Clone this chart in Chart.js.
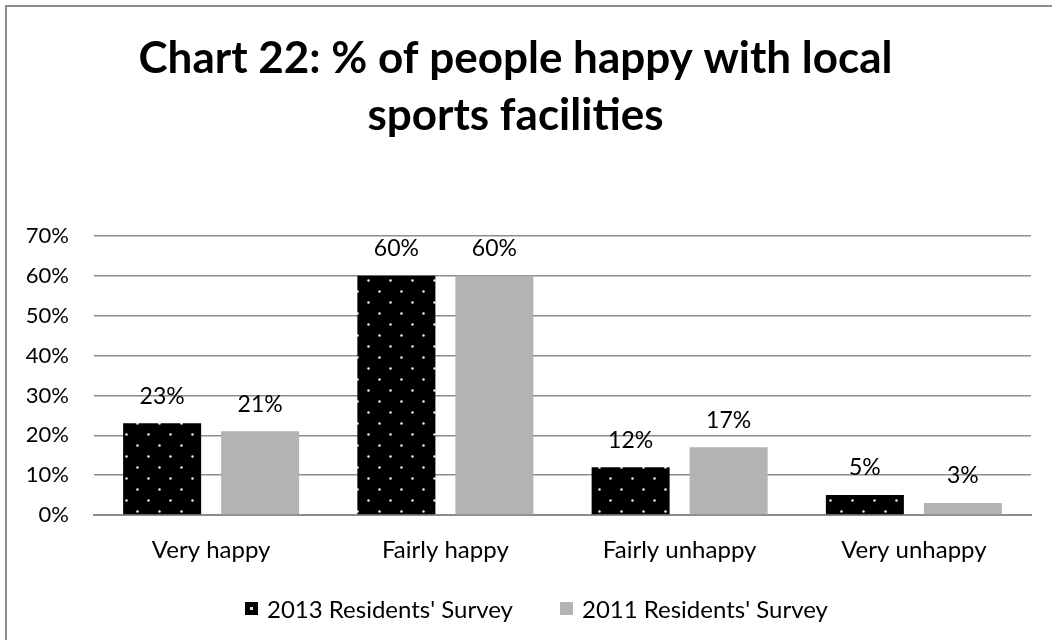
<!DOCTYPE html>
<html>
<head>
<meta charset="utf-8">
<script src="https://cdn.jsdelivr.net/npm/chart.js@4.4.1/dist/chart.umd.min.js"></script>
<style>
    body { margin: 0; background: #fff; overflow: hidden; }
    #wrap { position: relative; width: 1052px; height: 640px; overflow: hidden; }
    #frame {
        position: absolute; left: 5px; top: 5px; width: 1100px; height: 700px;
        border-left: 2px solid #8c8c8c; border-top: 2px solid #8c8c8c;
    }
    #legend {
        position: absolute; left: 245px; top: 594px; line-height: 29px;
        font-family: Lato, 'Open Sans', sans-serif; font-size: 24px; color: #000;
        display: flex; align-items: center; white-space: nowrap;
    }
    .item { display: flex; align-items: center; margin-right: 47px; }
    .box { width: 13px; height: 13px; margin-right: 9px; position: relative; }
    .box.dots { background: #000; }
    .box.dots::after {
        content: ''; position: absolute; left: 5px; top: 5px; width: 3px; height: 3px; background: #e0e0e0;
    }
    .box.grey { background: #b3b3b3; }
</style>
</head>
<body>
<div id="wrap">
    <canvas id="chart" width="1052" height="640"></canvas>
    <div id="frame"></div>
    <div id="legend"></div>
</div>
<script>
    // Chart data
    const titleLines = ['Chart 22: % of people happy with local', 'sports facilities'];
    const categories = ['Very happy', 'Fairly happy', 'Fairly unhappy', 'Very unhappy'];
    const seriesNames = ["2013 Residents' Survey", "2011 Residents' Survey"];
    const survey2013 = [23, 60, 12, 5];
    const survey2011 = [21, 60, 17, 3];
    const yMax = 70;
    const yStep = 10;

    const fontFamily = "Lato, 'Open Sans', sans-serif";

    // Black fill with small light dots
    function dotPattern() {
        const c = document.createElement('canvas');
        c.width = 22;
        c.height = 22;
        const g = c.getContext('2d');
        g.fillStyle = '#000';
        g.fillRect(0, 0, 22, 22);
        g.fillStyle = '#e6e6e6';
        [[5.5, 5.5], [16.5, 16.5]].forEach(p => {
            g.beginPath();
            g.arc(p[0], p[1], 1.3, 0, Math.PI * 2);
            g.fill();
        });
        return g.createPattern(c, 'repeat');
    }

    // Value labels above each bar
    const barLabels = {
        id: 'barLabels',
        afterDatasetsDraw(chart) {
            const ctx = chart.ctx;
            ctx.save();
            ctx.font = '23px ' + fontFamily;
            ctx.fillStyle = '#000';
            ctx.textAlign = 'center';
            ctx.textBaseline = 'middle';
            chart.data.datasets.forEach((ds, i) => {
                chart.getDatasetMeta(i).data.forEach((bar, j) => {
                    ctx.fillText(ds.data[j] + '%', bar.x, bar.y - 27);
                });
            });
            ctx.restore();
        }
    };

    new Chart(document.getElementById('chart'), {
        type: 'bar',
        data: {
            labels: categories,
            datasets: [{
                label: seriesNames[0],
                data: survey2013,
                backgroundColor: dotPattern(),
                categoryPercentage: 0.8367,
                barPercentage: 0.796
            }, {
                label: seriesNames[1],
                data: survey2011,
                backgroundColor: '#b3b3b3',
                categoryPercentage: 0.8367,
                barPercentage: 0.796
            }]
        },
        options: {
            responsive: false,
            animation: false,
            layout: {
                padding: { left: 0, right: 21, top: 0, bottom: 0 }
            },
            plugins: {
                legend: { display: false },
                tooltip: { enabled: false },
                title: {
                    display: true,
                    text: titleLines,
                    color: '#000',
                    font: { family: fontFamily, size: 44, weight: 'bold', lineHeight: 1.295 },
                    padding: { top: 30, bottom: 92 }
                }
            },
            scales: {
                x: {
                    grid: { display: false, drawTicks: false },
                    border: { display: true, color: '#8c8c8c', width: 2 },
                    ticks: {
                        color: '#000',
                        padding: 21,
                        font: { family: fontFamily, size: 24 }
                    },
                    afterFit(scale) { scale.height = 125; }
                },
                y: {
                    min: 0,
                    max: yMax,
                    grid: { color: '#8c8c8c', lineWidth: 1.5, drawTicks: false },
                    border: { display: false },
                    ticks: {
                        stepSize: yStep,
                        color: '#000',
                        padding: 25,
                        font: { family: fontFamily, size: 22 },
                        callback: v => v + '%'
                    },
                    afterFit(scale) { scale.width = 94; }
                }
            }
        },
        plugins: [barLabels]
    });

    // Legend below the chart
    const legend = document.getElementById('legend');
    ['dots', 'grey'].forEach((cls, i) => {
        const item = document.createElement('div');
        item.className = 'item';
        item.innerHTML = '<span class="box ' + cls + '"></span><span>' + seriesNames[i] + '</span>';
        legend.appendChild(item);
    });
</script>
</body>
</html>
